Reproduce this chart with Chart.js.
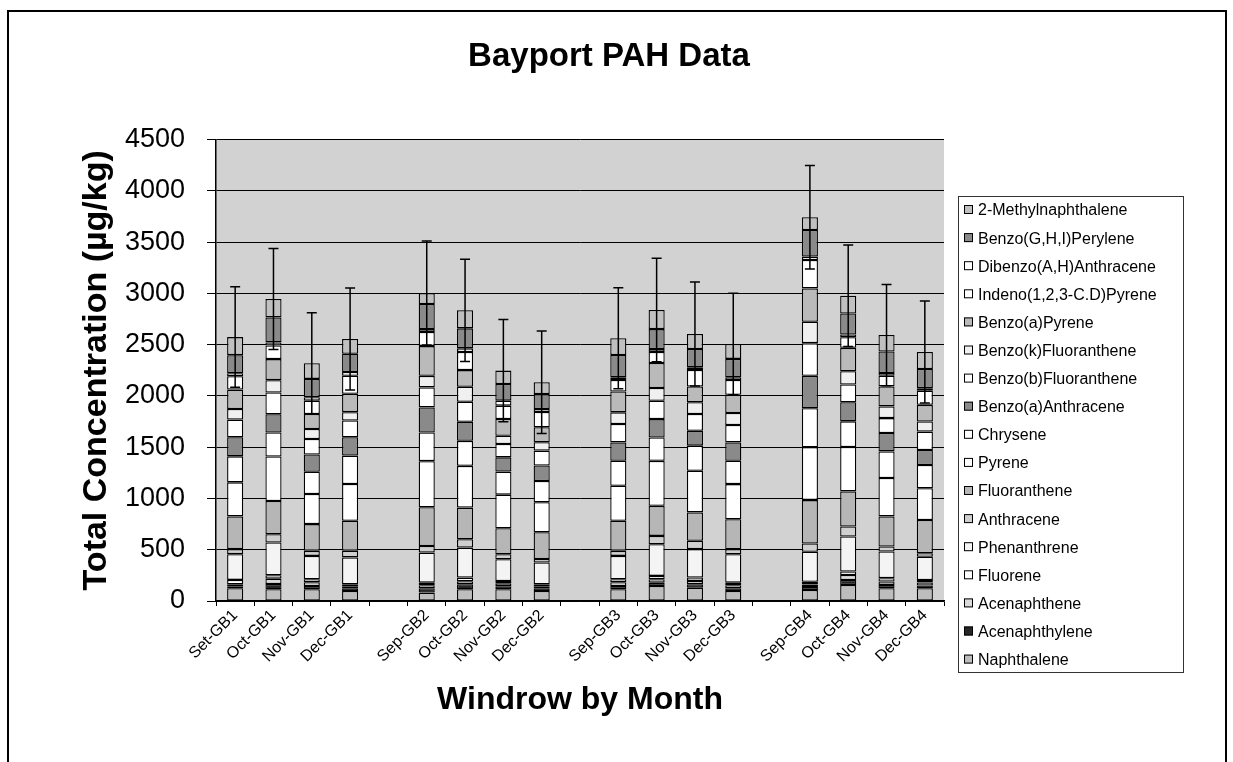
<!DOCTYPE html>
<html>
<head>
<meta charset="utf-8">
<title>Bayport PAH Data</title>
<script src="https://cdn.jsdelivr.net/npm/chart.js@4.4.0/dist/chart.umd.min.js"></script>
<style>
  html, body { margin: 0; padding: 0; background: #fff; }
  #wrap { width: 1233px; height: 762px; }
</style>
</head>
<body>
<div id="wrap"><canvas id="pah" width="1233" height="762"></canvas></div>
<script>
// categories (blank slots separate the windrows)
const categories = ['Set-GB1', 'Oct-GB1', 'Nov-GB1', 'Dec-GB1', '',
                    'Sep-GB2', 'Oct-GB2', 'Nov-GB2', 'Dec-GB2', '',
                    'Sep-GB3', 'Oct-GB3', 'Nov-GB3', 'Dec-GB3', '',
                    'Sep-GB4', 'Oct-GB4', 'Nov-GB4', 'Dec-GB4'];

// values per compound, ug/kg, in the order GB1..GB4 x Sep..Dec
const naphthalene      = [124, 114, 114,  98,   82, 114, 114,  98,  114, 146, 130,  98,  107, 156, 124, 124];
const acenaphthylene   = [ 20,  52,  33,  26,   42,  49,  29,  26,   33,  33,  33,  26,   29,  49,  33,  27];
const acenaphthene     = [ 20,  52,  36,  20,   29,  29,  29,  20,   36,  33,  33,  29,   24,  49,  33,  29];
const fluorene         = [ 42,  33,  29,  20,   26,  36,  23,  20,   29,  33,  33,  26,   27,  33,  33,  24];
const phenanthrene     = [251, 319, 228, 261,  293, 293, 212, 212,  228, 309, 277, 277,  293, 342, 260, 228];
const anthracene       = [ 49,  81,  49,  65,   65,  81,  49,  33,   49,  81,  81,  49,   81,  98,  49,  33];
const fluoranthene     = [319, 325, 261, 293,  378, 309, 254, 261,  293, 293, 277, 293,  423, 342, 293, 325];
const pyrene           = [332, 433, 293, 358,  449, 407, 327, 293,  342, 439, 407, 342,  515, 433, 374, 309];
const chrysene         = [254, 234, 218, 277,  280, 244, 225, 208,  244, 228, 244, 228,  381, 250, 260, 228];
const benzoAAnthracene = [186, 179, 168, 179,  244, 186, 139, 150,  179, 179, 146, 179,  316, 186, 179, 146];
const benzoBFluor      = [172, 212, 151, 163,  195, 195, 130, 146,  179, 179, 163, 169,  319, 173, 146, 179];
const benzoKFluor      = [104, 120,  98,  82,  113, 146,  81,  81,  114, 124, 114, 117,  208, 130, 114,  98];
const benzoAPyrene     = [189, 205, 146, 179,  290, 163, 163, 146,  203, 244, 154, 178,  326, 228, 195, 163];
const indenoPyrene     = [130, 133, 130, 176,  137, 176, 130, 150,  112, 107, 161, 145,  277, 104, 104, 137];
const dibenzoAnthr     = [ 30,  30,  33,  36,   29,  36,  49,  29,   26,  29,  26,  26,   33,  26,  26,  26];
const benzoGhiPerylene = [176, 244, 179, 179,  244, 195, 163, 146,  218, 195, 179, 179,  260, 205, 211, 186];
const methylNaph       = [176, 179, 153, 143,  107, 176, 130, 114,  163, 186, 146, 146,  124, 173, 160, 166];

// +/- error on the total
const errors = [490, 492, 492, 498,  507, 498, 498, 500,  492, 505, 506, 495,  504, 494, 494, 498];

const yTicks = { min: 0, max: 4500, step: 500 };

const withGaps = a => [...a.slice(0, 4), null, ...a.slice(4, 8), null, ...a.slice(8, 12), null, ...a.slice(12)];

const series = [
  ['Naphthalene', naphthalene, '#bdbdbd'],
  ['Acenaphthylene', acenaphthylene, '#262626'],
  ['Acenaphthene', acenaphthene, '#dadada'],
  ['Fluorene', fluorene, '#ffffff'],
  ['Phenanthrene', phenanthrene, '#f4f4f4'],
  ['Anthracene', anthracene, '#cfcfcf'],
  ['Fluoranthene', fluoranthene, '#b6b6b6'],
  ['Pyrene', pyrene, '#ffffff'],
  ['Chrysene', chrysene, '#ffffff'],
  ['Benzo(a)Anthracene', benzoAAnthracene, '#8a8a8a'],
  ['Benzo(b)Fluoranthene', benzoBFluor, '#ffffff'],
  ['Benzo(k)Fluoranthene', benzoKFluor, '#f0f0f0'],
  ['Benzo(a)Pyrene', benzoAPyrene, '#bababa'],
  ['Indeno(1,2,3-C.D)Pyrene', indenoPyrene, '#ffffff'],
  ['Dibenzo(A,H)Anthracene', dibenzoAnthr, '#ffffff'],
  ['Benzo(G,H,I)Perylene', benzoGhiPerylene, '#8a8a8a'],
  ['2-Methylnaphthalene', methylNaph, '#c0c0c0']
];

const totals = withGaps(naphthalene.map((_, i) => series.reduce((s, d) => s + d[1][i], 0)));
const errs = withGaps(errors);

Chart.defaults.font.family = 'Arial, "Liberation Sans", sans-serif';
Chart.defaults.color = '#000';

// white page, outer frame and grey plot area
const frame = {
  id: 'frame',
  beforeDraw(chart) {
    const { ctx, chartArea: a } = chart;
    ctx.save();
    ctx.fillStyle = '#fff';
    ctx.fillRect(0, 0, chart.width, chart.height);
    ctx.strokeStyle = '#000';
    ctx.lineWidth = 2;
    ctx.strokeRect(8, 11, 1218, 800);
    ctx.fillStyle = '#d2d2d2';
    ctx.fillRect(a.left, a.top, a.right - a.left, a.bottom - a.top);
    ctx.restore();
  }
};

const errorBars = {
  id: 'errorBars',
  afterDatasetsDraw(chart) {
    const ctx = chart.ctx, y = chart.scales.y;
    const meta = chart.getDatasetMeta(chart.data.datasets.length - 1);
    ctx.save();
    ctx.strokeStyle = '#000';
    ctx.lineWidth = 1.5;
    totals.forEach((t, i) => {
      if (t == null) return;
      const x = meta.data[i].x;
      const hi = y.getPixelForValue(t + errs[i]);
      const lo = y.getPixelForValue(t - errs[i]);
      ctx.beginPath();
      ctx.moveTo(x, hi); ctx.lineTo(x, lo);
      ctx.moveTo(x - 5, hi); ctx.lineTo(x + 5, hi);
      ctx.moveTo(x - 5, lo); ctx.lineTo(x + 5, lo);
      ctx.stroke();
    });
    ctx.restore();
  }
};

// boxed legend on the right, top entry = last series
const boxLegend = {
  id: 'boxLegend',
  afterDraw(chart) {
    const ctx = chart.ctx;
    const sets = chart.data.datasets.slice().reverse();
    ctx.save();
    ctx.strokeStyle = '#333';
    ctx.lineWidth = 1;
    ctx.strokeRect(958.5, 196.5, 225, 476);
    ctx.font = '16px Arial, "Liberation Sans", sans-serif';
    ctx.textBaseline = 'middle';
    sets.forEach((ds, k) => {
      const yc = 210 + k * 28.1;
      ctx.fillStyle = ds.backgroundColor;
      ctx.fillRect(964, yc - 5, 9, 9);
      ctx.strokeStyle = '#000';
      ctx.strokeRect(964.5, yc - 4.5, 8, 8);
      ctx.fillStyle = '#000';
      ctx.fillText(ds.label, 978, yc + 1);
    });
    ctx.restore();
  }
};

new Chart(document.getElementById('pah'), {
  type: 'bar',
  data: {
    labels: categories,
    datasets: series.map(([label, vals, color]) => ({
      label: label,
      data: withGaps(vals),
      backgroundColor: color,
      borderColor: '#000',
      borderWidth: 1.3,
      borderSkipped: false,
      categoryPercentage: 1,
      barPercentage: 0.42
    }))
  },
  options: {
    responsive: false,
    animation: false,
    layout: { padding: { left: 0, right: 15, top: 0, bottom: 0 } },
    plugins: {
      legend: { display: false },
      tooltip: { enabled: false },
      title: {
        display: true,
        text: 'Bayport PAH Data',
        color: '#000',
        font: { size: 33, weight: 'bold' },
        padding: { top: 37, bottom: 63 }
      }
    },
    scales: {
      x: {
        stacked: true,
        grid: { drawOnChartArea: false, tickLength: 5, color: '#000' },
        border: { color: '#000', width: 1.5 },
        ticks: { autoSkip: false, minRotation: 45, maxRotation: 45, font: { size: 16 }, padding: 0 },
        title: { display: true, text: 'Windrow by Month', font: { size: 32, weight: 'bold' }, padding: { top: 0, bottom: 43 } },
        afterFit: s => { s.height = 161; }
      },
      y: {
        stacked: true,
        min: yTicks.min,
        max: yTicks.max,
        ticks: { stepSize: yTicks.step, font: { size: 27 }, padding: 22, callback: v => String(v) },
        grid: { color: '#000', tickLength: 9 },
        border: { color: '#000', width: 1.5 },
        title: { display: true, text: 'Total Concentration (µg/kg)', font: { size: 34, weight: 'bold' }, padding: { top: 76, bottom: 0 } },
        afterFit: s => { s.width = 216; }
      },
      yR: {
        position: 'right',
        grid: { display: false },
        ticks: { display: false },
        border: { display: false },
        afterFit: s => { s.width = 274; }
      }
    }
  },
  plugins: [frame, errorBars, boxLegend]
});
</script>
</body>
</html>
